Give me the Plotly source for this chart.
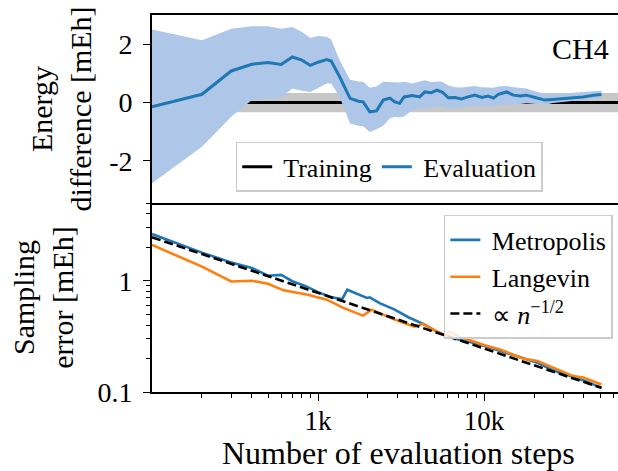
import plotly.graph_objects as go

# ---------------- data ----------------
# Running energy difference (evaluation) vs. number of evaluation steps, CH4
eval_steps = [100, 200, 300, 400, 500, 600, 700, 800, 900, 1000, 1130, 1200, 1350,
              1560, 1750, 1870, 2050, 2250, 2470, 2710, 2900, 3100, 3300, 3700, 4100,
              4400, 4800, 5200, 5600, 6100, 6700, 7300, 8000, 8800, 9700, 10600, 11400,
              12200, 13700, 15000, 16500, 18000, 20300, 23200, 26000, 30000, 34500,
              39600, 45600, 51000]
eval_mean = [-0.15, 0.28, 1.08, 1.31, 1.37, 1.30, 1.56, 1.45, 1.27, 1.38, 1.47, 1.42, 0.88,
             0.14, 0.04, 0.02, -0.32, -0.29, 0.08, 0.15, 0.02, -0.03, 0.19, 0.24, 0.19,
             0.36, 0.33, 0.42, 0.36, 0.16, 0.17, 0.12, 0.19, 0.25, 0.17, 0.22, 0.15,
             0.28, 0.36, 0.25, 0.22, 0.25, 0.17, 0.08, 0.10, 0.14, 0.16,
             0.19, 0.25, 0.27]
eval_upper = [2.50, 2.13, 2.53, 2.61, 2.61, 2.53, 2.59, 2.42, 2.21, 2.28, 2.25, 2.16, 1.45,
              0.78, 0.72, 0.71, 0.50, 0.55, 0.71, 0.70, 0.67, 0.68, 0.71, 0.65, 0.72,
              0.76, 0.70, 0.72, 0.71, 0.58, 0.52, 0.51, 0.54, 0.56, 0.52, 0.51, 0.50,
              0.55, 0.56, 0.52, 0.50, 0.48, 0.38, 0.30, 0.28, 0.30, 0.33,
              0.35, 0.38, 0.40]
eval_lower = [-2.77, -1.52, -0.49, 0.08, 0.12, 0.17, 0.48, 0.40, 0.36, 0.50, 0.65, 0.65, 0.19,
              -0.72, -0.80, -0.82, -1.01, -0.92, -0.80, -0.55, -0.49, -0.52, -0.48, -0.26, -0.24,
              -0.21, -0.18, -0.15, -0.15, -0.21, -0.20, -0.18, -0.15, -0.14, -0.13, -0.12, -0.12,
              -0.10, -0.08, -0.06, -0.05, -0.03, -0.06, -0.08, -0.02, 0.02, 0.06,
              0.09, 0.13, 0.16]

# Training reference level and its spread
train_steps = [100, 70000]
train_mean = [0.0, 0.0]
train_upper = [0.32, 0.32]
train_lower = [-0.34, -0.34]

# Sampling error [mEh]
metro_steps = [100, 200, 300, 400, 500, 600, 700, 850, 1000, 1200, 1400, 1500, 1970, 2050,
               2350, 2900, 3500, 4300, 5000, 5900, 7000, 8600, 10200, 13700, 17300,
               21000, 26000, 34500, 41000, 51000]
metro_err = [2.63, 1.79, 1.46, 1.30, 1.11, 1.13, 0.99, 0.89, 0.79, 0.71, 0.686, 0.83, 0.70, 0.71,
             0.63, 0.55, 0.47, 0.41, 0.36, 0.32, 0.296, 0.277, 0.258, 0.225, 0.199,
             0.183, 0.157, 0.137, 0.125, 0.109]

lang_steps = [100, 200, 300, 400, 500, 620, 870, 1130, 1420, 1870, 2100, 2350, 2900, 3500,
              3800, 4300, 5000, 5900, 6200, 7000, 8600, 10200, 12500, 17300, 21000,
              26000, 34500, 39600, 51000]
lang_err = [2.10, 1.34, 0.986, 1.00, 0.94, 0.82, 0.75, 0.676, 0.57, 0.486, 0.55, 0.51, 0.447, 0.404,
            0.387, 0.41, 0.36, 0.32, 0.35, 0.317, 0.286, 0.262, 0.241, 0.199, 0.19,
            0.165, 0.139, 0.135, 0.117]

# n^(-1/2) guide line (straight on log-log axes)
ref_steps = [100, 51000]
ref_err = [2.46, 0.109]

# Tick definitions
x_major = [1000, 10000]
x_major_text = ["1k", "10k"]
x_minor = [200, 300, 400, 500, 600, 700, 800, 900,
           2000, 3000, 4000, 5000, 6000, 7000, 8000, 9000,
           20000, 30000, 40000, 50000, 60000]
e_ticks = [-2, 0, 2]
e_ticktext = ["-2", "0", "2"]
s_ticks = [0.1, 1]
s_ticktext = ["0.1", "1"]
s_minor = [0.2, 0.3, 0.4, 0.5, 0.6, 0.7, 0.8, 0.9, 2, 3, 4, 5]

# ---------------- styling ----------------
FONT = "Liberation Serif"
BLUE = "#1f77b4"
ORANGE = "#ff7f0e"
BAND_BLUE = "#aec7e8"
BAND_GREY = "#c7c7c7"
TICK_SIZE = 28
TITLE_SIZE = 30
LEGEND_SIZE = 26

fig = go.Figure()

# ---- top panel: energy difference ----
fig.add_trace(go.Scatter(
    x=train_steps + train_steps[::-1], y=train_upper + train_lower[::-1],
    fill="toself", fillcolor=BAND_GREY, line=dict(width=0), mode="lines",
    showlegend=False, hoverinfo="skip", xaxis="x2", yaxis="y2"))
fig.add_trace(go.Scatter(
    x=train_steps, y=train_mean, mode="lines", name=" Training",
    line=dict(color="black", width=3), xaxis="x2", yaxis="y2", legend="legend"))
fig.add_trace(go.Scatter(
    x=eval_steps + eval_steps[::-1], y=eval_upper + eval_lower[::-1],
    fill="toself", fillcolor=BAND_BLUE, line=dict(width=0), mode="lines",
    showlegend=False, hoverinfo="skip", xaxis="x2", yaxis="y2"))
fig.add_trace(go.Scatter(
    x=eval_steps, y=eval_mean, mode="lines", name=" Evaluation",
    line=dict(color=BLUE, width=3), xaxis="x2", yaxis="y2", legend="legend"))

# ---- bottom panel: sampling error ----
fig.add_trace(go.Scatter(
    x=metro_steps, y=metro_err, mode="lines", name=" Metropolis",
    line=dict(color=BLUE, width=2.6), legend="legend2"))
fig.add_trace(go.Scatter(
    x=lang_steps, y=lang_err, mode="lines", name=" Langevin",
    line=dict(color=ORANGE, width=2.6), legend="legend2"))
fig.add_trace(go.Scatter(
    x=ref_steps, y=ref_err, mode="lines", name=" ∝ <i>n</i><sup>−1/2</sup>",
    line=dict(color="black", width=2.6, dash="9px,4px"), legend="legend2"))

split = 189 / 377
axis_common = dict(showline=True, linecolor="black", linewidth=1.6, showgrid=False,
                   zeroline=False, tickcolor="black", tickwidth=1.3)

fig.update_layout(
    width=618, height=471,
    margin=dict(l=152, r=0, t=15, b=79),
    paper_bgcolor="white", plot_bgcolor="white",
    font=dict(family=FONT, size=TICK_SIZE, color="black"),
    xaxis=dict(type="log", range=[2, 4.807], domain=[0, 1], anchor="y",
               tickmode="array", tickvals=x_major, ticktext=x_major_text,
               ticks="outside", ticklen=7, tickfont=dict(size=27),
               ticklabelstandoff=-3,
               minor=dict(tickmode="array", tickvals=x_minor, ticks="outside",
                          ticklen=4, tickcolor="black", tickwidth=1.2),
               **axis_common),
    yaxis=dict(type="log", range=[-1, 0.699], domain=[0, split], anchor="x",
               tickmode="array", tickvals=s_ticks, ticktext=s_ticktext,
               ticks="outside", ticklen=7, tickfont=dict(size=TICK_SIZE),
               ticklabelstandoff=5,
               minor=dict(tickmode="array", tickvals=s_minor, ticks="outside",
                          ticklen=4, tickcolor="black", tickwidth=1.2),
               title=dict(text="Sampling<br>error [mEh]", font=dict(size=TITLE_SIZE), standoff=15),
               **axis_common),
    xaxis2=dict(type="log", range=[2, 4.807], domain=[0, 1], anchor="y2", matches="x",
                showticklabels=False, ticks="", mirror=True, **axis_common),
    yaxis2=dict(range=[-3.45, 3.0], domain=[split, 1], anchor="x2",
                tickmode="array", tickvals=e_ticks, ticktext=e_ticktext,
                ticks="outside", ticklen=7, tickfont=dict(size=TICK_SIZE),
                ticklabelstandoff=5,
                title=dict(text="Energy<br>difference [mEh]", font=dict(size=TITLE_SIZE), standoff=9),
                **axis_common),
    legend=dict(orientation="h", x=0.509, xanchor="center", y=0.531, yanchor="bottom",
                bgcolor="rgba(255,255,255,0.85)", bordercolor="#cccccc", borderwidth=1.5,
                font=dict(size=LEGEND_SIZE), itemwidth=30),
    legend2=dict(x=0.989, xanchor="right", y=0.4695, yanchor="top",
                 bgcolor="rgba(255,255,255,0.85)", bordercolor="#cccccc", borderwidth=1.5,
                 font=dict(size=LEGEND_SIZE)),
    annotations=[
        dict(text="CH4", xref="x2 domain", yref="y2 domain", x=0.985, y=0.824,
             xanchor="right", yanchor="middle", showarrow=False, font=dict(size=30)),
        dict(text="Number of evaluation steps", xref="paper", yref="paper",
             x=0.53, y=-0.162, xanchor="center", yanchor="middle", showarrow=False,
             font=dict(size=32)),
    ],
)

fig.write_html("out.html")
